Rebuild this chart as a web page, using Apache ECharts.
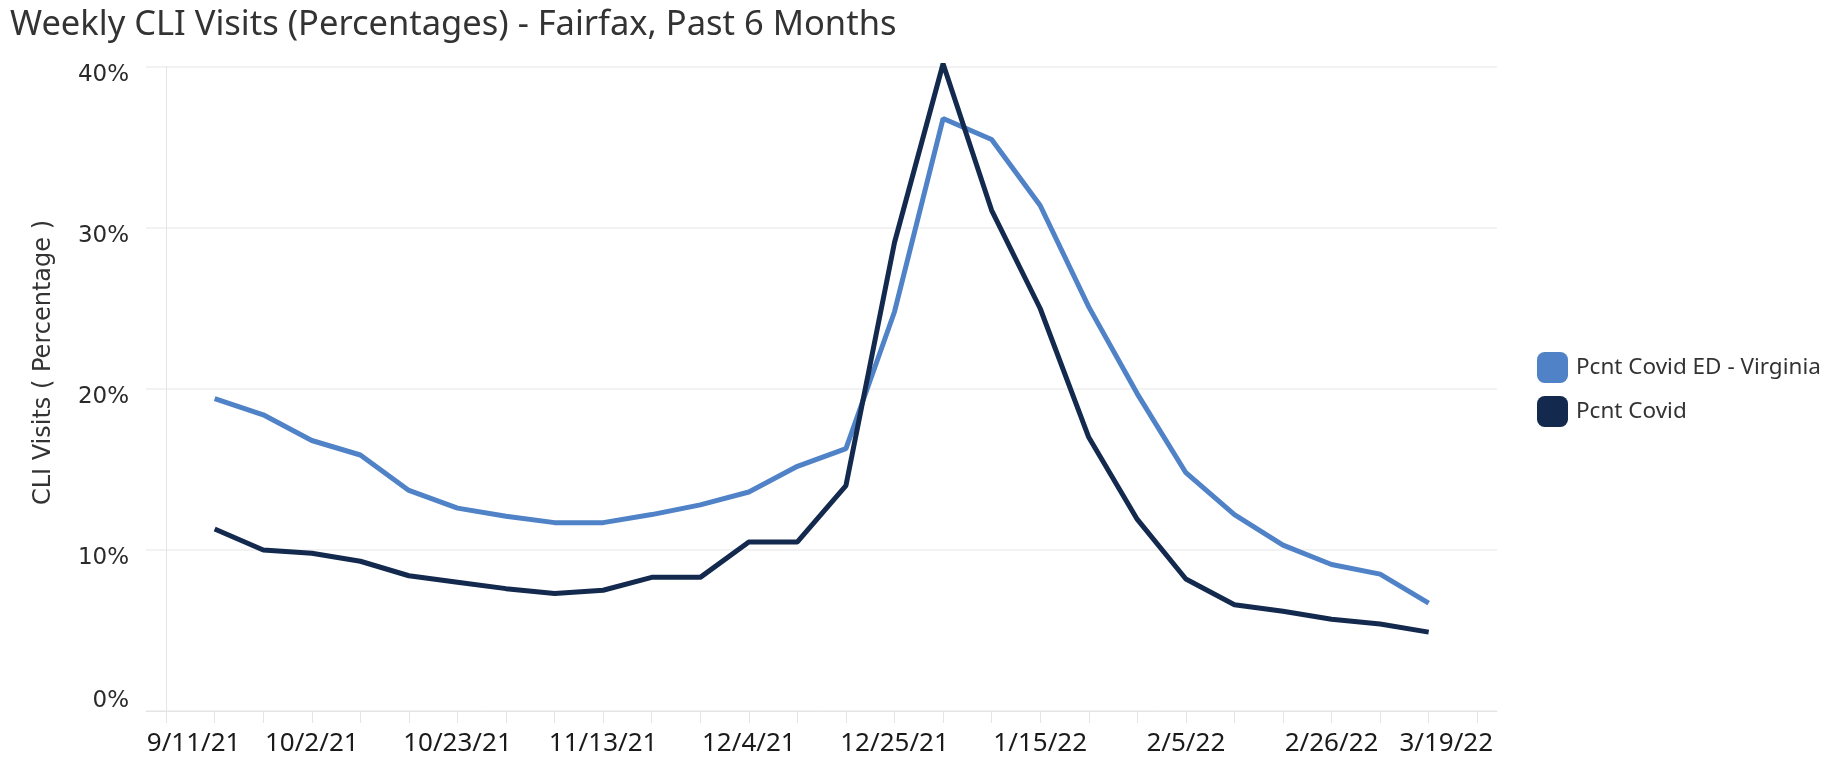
<!doctype html>
<html>
<head>
<meta charset="utf-8">
<title>Weekly CLI Visits - Fairfax</title>
<script src="https://cdn.jsdelivr.net/npm/echarts@6/dist/echarts.min.js"></script>
<style>
  html, body { margin: 0; padding: 0; background: #fff; }
  #main { width: 1829px; height: 761px; }
</style>
</head>
<body>
<div id="main"></div>
<script>
// week ending dates
var weeks = [
  '2021-09-18', '2021-09-25', '2021-10-02', '2021-10-09', '2021-10-16', '2021-10-23',
  '2021-10-30', '2021-11-06', '2021-11-13', '2021-11-20', '2021-11-27', '2021-12-04',
  '2021-12-11', '2021-12-18', '2021-12-25', '2022-01-01', '2022-01-08', '2022-01-15',
  '2022-01-22', '2022-01-29', '2022-02-05', '2022-02-12', '2022-02-19', '2022-02-26',
  '2022-03-05', '2022-03-12'
];
var virginia = [
  19.4, 18.4, 16.8, 15.9, 13.7, 12.6, 12.1, 11.7, 11.7, 12.2, 12.8, 13.6,
  15.2, 16.3, 24.8, 36.8, 35.5, 31.4, 25.1, 19.7, 14.8, 12.2, 10.3, 9.1, 8.5, 6.7
];
var fairfax = [
  11.3, 10.0, 9.8, 9.3, 8.4, 8.0, 7.6, 7.3, 7.5, 8.3, 8.3, 10.5,
  10.5, 14.0, 29.1, 40.2, 31.1, 25.0, 17.0, 11.9, 8.2, 6.6, 6.2, 5.7, 5.4, 4.9
];
var tickLabels = ['9/11/21', '10/2/21', '10/23/21', '11/13/21', '12/4/21', '12/25/21',
  '1/15/22', '2/5/22', '2/26/22', '3/19/22'];
var seriesNames = ['Pcnt Covid ED - Virginia', 'Pcnt Covid'];
var colors = ['#4f82c6', '#132a4e'];

var DAY = 24 * 3600 * 1000;
function parseLabel(s) {
  var p = s.split('/');
  return Date.UTC(2000 + (+p[2]), +p[0] - 1, +p[1]);
}
function parseIso(s) {
  var p = s.split('-');
  return Date.UTC(+p[0], +p[1] - 1, +p[2]);
}
var origin = parseLabel(tickLabels[0]);
// x values are days since the first tick label
function dayOf(ms) { return Math.round((ms - origin) / DAY); }
var labelValues = tickLabels.map(function (s) { return dayOf(parseLabel(s)); });
var lastTick = labelValues[labelValues.length - 1];
var tickValues = [];
for (var t = 0; t <= lastTick; t += 7) tickValues.push(t);

function fmt(v) {
  var d = new Date(origin + v * DAY);
  return (d.getUTCMonth() + 1) + '/' + d.getUTCDate() + '/' + String(d.getUTCFullYear()).slice(2);
}

var xFont = { fontFamily: 'Noto Sans', fontSize: 26, color: '#1a1a1a' };
var yFont = { fontFamily: 'DejaVu Sans', fontSize: 23, color: '#2a2a2a' };

var chart = echarts.init(document.getElementById('main'));

chart.setOption({
  animation: false,
  backgroundColor: '#fff',
  color: colors,
  title: {
    text: 'Weekly CLI Visits (Percentages) - Fairfax, Past 6 Months',
    left: 5,
    top: 3,
    textStyle: {
      fontFamily: 'Noto Sans',
      fontWeight: 'normal',
      fontSize: 34.5,
      color: '#333'
    }
  },
  legend: {
    orient: 'vertical',
    left: 1532,
    top: 347,
    icon: 'roundRect',
    itemWidth: 31,
    itemHeight: 31,
    itemGap: 13,
    data: seriesNames,
    textStyle: {
      fontFamily: 'Noto Sans',
      fontSize: 22.5,
      color: '#333',
      padding: [0, 0, 0, 3]
    }
  },
  grid: {
    left: 146,
    right: 332,
    top: 67,
    bottom: 50
  },
  xAxis: {
    type: 'value',
    min: -2.9,
    max: lastTick + 2.85,
    axisLine: { show: true, lineStyle: { color: '#e4e4e4', width: 1 } },
    axisTick: {
      show: true,
      customValues: tickValues,
      length: 12,
      lineStyle: { color: '#e4e4e4' }
    },
    splitLine: { show: false },
    axisLabel: {
      customValues: labelValues,
      margin: 20,
      fontFamily: xFont.fontFamily,
      fontSize: xFont.fontSize,
      color: xFont.color,
      formatter: function (v) {
        var s = fmt(v);
        if (v === 0) return '{first|' + s + '}';
        if (v === lastTick) return '{last|' + s + '}';
        return s;
      },
      rich: {
        first: Object.assign({ padding: [0, 0, 0, 55] }, xFont),
        last: Object.assign({ padding: [0, 62, 0, 0] }, xFont)
      }
    }
  },
  yAxis: {
    type: 'value',
    min: 0,
    max: 40,
    interval: 10,
    axisLine: { show: true, lineStyle: { color: '#e4e4e4' } },
    axisTick: { show: false },
    splitLine: { show: true, lineStyle: { color: '#eeeeee', width: 1.5 } },
    axisLabel: {
      margin: 17,
      formatter: function (v) {
        return v === 0 ? '{z|0%}' : '{n|' + v + '%}';
      },
      rich: {
        n: Object.assign({ padding: [16, 0, 0, 0] }, yFont),
        z: Object.assign({ padding: [0, 0, 20, 0] }, yFont)
      }
    }
  },
  graphic: [{
    type: 'text',
    left: 32,
    top: 220,
    rotation: Math.PI / 2,
    style: {
      text: 'CLI Visits ( Percentage )',
      fontFamily: 'DejaVu Sans',
      fontSize: 24,
      fill: '#333'
    }
  }],
  series: [
    {
      name: seriesNames[0],
      type: 'line',
      clip: false,
      symbol: 'none',
      lineStyle: { width: 5, color: colors[0] },
      data: weeks.map(function (d, i) { return [dayOf(parseIso(d)), virginia[i]]; })
    },
    {
      name: seriesNames[1],
      type: 'line',
      clip: false,
      symbol: 'none',
      lineStyle: { width: 5, color: colors[1] },
      data: weeks.map(function (d, i) { return [dayOf(parseIso(d)), fairfax[i]]; })
    }
  ]
});

window.onresize = chart.resize;
</script>
</body>
</html>
